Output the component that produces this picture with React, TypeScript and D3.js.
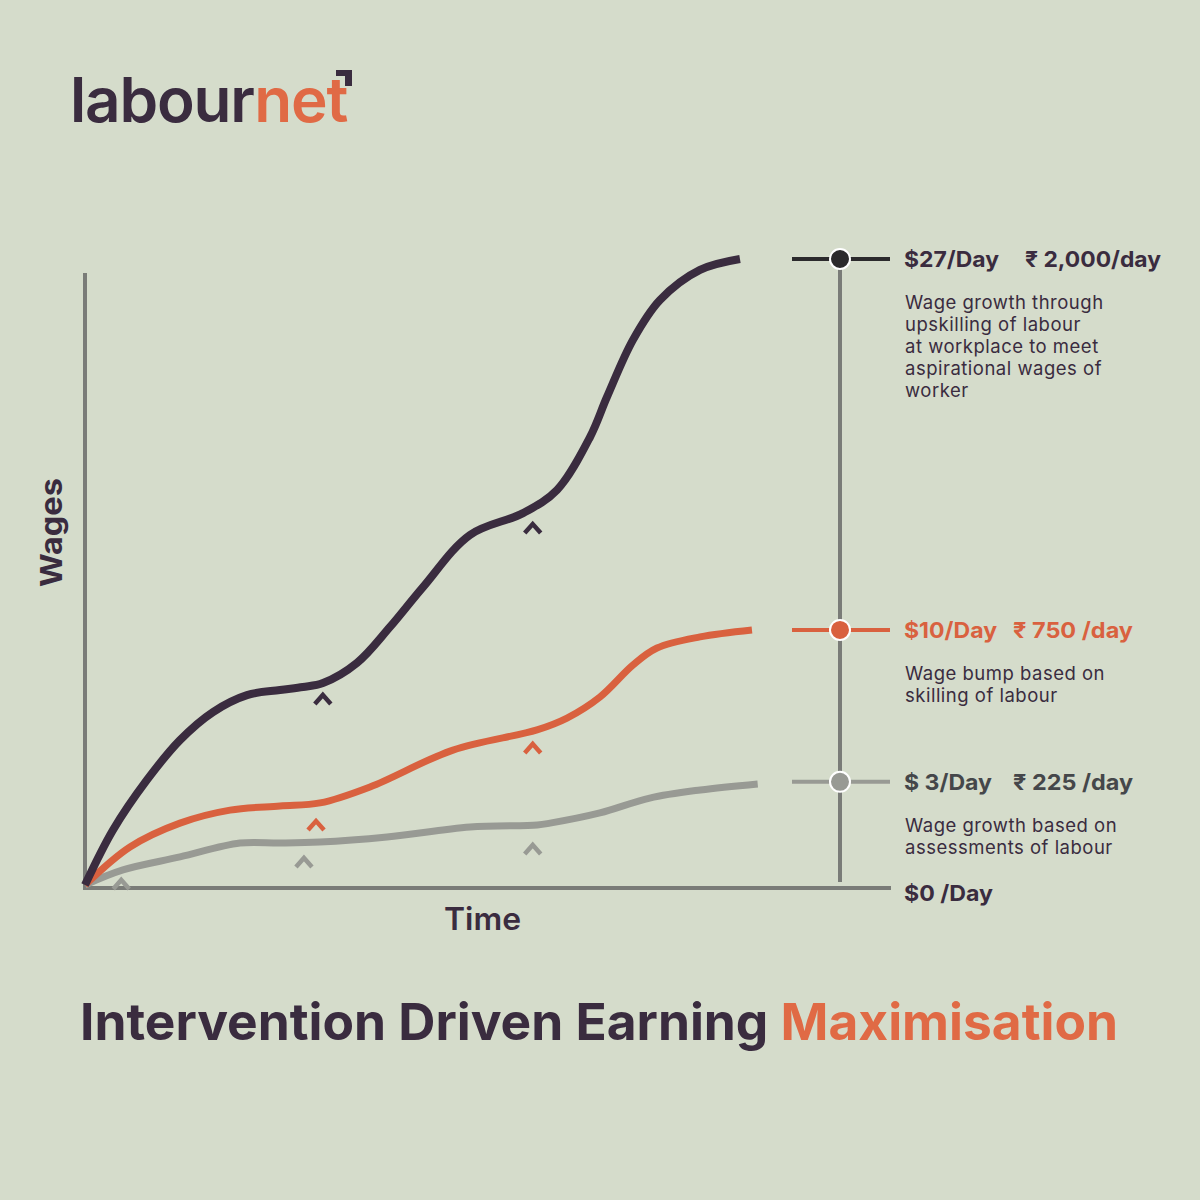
import React from "react";
import * as d3 from "d3";

// ---- data (time index 0..100, wage in $/day) ----
const upskillTime = [0, 3.71, 8.21, 12.58, 16.95, 21.46, 25.83, 28.87, 31.52, 36.03, 40.4, 44.77, 50.99, 58.01, 62.52, 66.89, 69.14, 72.58, 76.16, 81.46, 86.75];
const upskillWage = [0, 2.37, 4.53, 6.25, 7.46, 8.19, 8.41, 8.54, 8.71, 9.58, 11.13, 12.85, 15.1, 16.04, 17.04, 19.32, 21.05, 23.51, 25.23, 26.53, 27.0];

const skillTime = [0, 5.96, 12.58, 19.21, 25.83, 31.13, 37.75, 48.74, 59.87, 63.84, 68.21, 72.58, 75.76, 81.46, 88.34];
const skillWage = [0, 1.64, 2.67, 3.23, 3.41, 3.54, 4.23, 5.82, 6.69, 7.2, 8.11, 9.49, 10.22, 10.7, 11.0];

const assessTime = [0, 5.03, 12.58, 20.53, 25.83, 31.1, 40.0, 51.0, 59.9, 61.6, 68.2, 74.8, 81.5, 89.1];
const assessWage = [0, 0.65, 1.21, 1.81, 1.81, 1.85, 2.07, 2.5, 2.59, 2.67, 3.11, 3.75, 4.1, 4.36];

// chevron intervention markers
const upskillMarkTime = [31.5, 59.3];
const upskillMarkWage = [8.11, 15.48];
const skillMarkTime = [30.6, 59.3];
const skillMarkWage = [2.67, 6.0];
const assessMarkTime = [4.8, 29.0, 59.3];
const assessMarkWage = [0.13, 1.08, 1.64];

// legend
const legendLevels = [27, 11, 4.45];
const legendUsd = ["$27/Day", "$10/Day", "$ 3/Day"];
const legendInr = ["₹ 2,000/day", "₹ 750 /day", "₹ 225 /day"];
const legendDesc = [
  ["Wage growth through", "upskilling of labour", "at workplace to meet", "aspirational wages of", "worker"],
  ["Wage bump based on", "skilling of labour"],
  ["Wage growth based on", "assessments of labour"],
];
const zeroLabel = "$0 /Day";
const xAxisTitle = "Time";
const yAxisTitle = "Wages";
const titleMain = "Intervention Driven Earning ";
const titleAccent = "Maximisation";
const logoMain = "labour";
const logoAccent = "net";

const BG = "#D5DCCB";
const DARK = "#3A2C3F";
const ORANGE = "#D9613F";
const ORANGE_T = "#E06A45";
const GRAY = "#989A94";
const AXIS = "#7A7C78";
const FONT = "Inter, 'Open Sans', sans-serif";

const x = d3.scaleLinear().domain([0, 100]).range([85, 840]);
const y = d3.scaleLinear().domain([0, 27]).range([885, 259]);

const line = d3
  .line<[number, number]>()
  .x((d) => x(d[0]))
  .y((d) => y(d[1]))
  .curve(d3.curveCatmullRom.alpha(0.5));

const zip = (a: number[], b: number[]) => a.map((v, i) => [v, b[i]] as [number, number]);

const series = [
  { pts: zip(assessTime, assessWage), color: GRAY, width: 7, mt: assessMarkTime, mw: assessMarkWage },
  { pts: zip(skillTime, skillWage), color: ORANGE, width: 7, mt: skillMarkTime, mw: skillMarkWage },
  { pts: zip(upskillTime, upskillWage), color: DARK, width: 8, mt: upskillMarkTime, mw: upskillMarkWage },
];

const legendColors = ["#2B2A2C", ORANGE, GRAY];
const legendTextColors = [DARK, ORANGE, "#45474A"];
const legendUsdLen = [95, 93, 88];
const legendInrX = [1025, 1013, 1013];
const legendInrLen = [136, 120, 120];

function Chevron({ cx, cy, color }: { cx: number; cy: number; color: string }) {
  return (
    <path
      d={`M${cx - 8},${cy + 7} L${cx},${cy - 2} L${cx + 8},${cy + 7}`}
      fill="none"
      stroke={color}
      strokeWidth={4.5}
      strokeLinejoin="miter"
    />
  );
}

export default function App() {
  return (
    <svg
      width={1200}
      height={1200}
      style={{ position: "absolute", left: 0, top: 0, display: "block" }}
      fontFamily={FONT}
    >
      <rect width={1200} height={1200} fill={BG} />

      {/* logo */}
      <text x={70} y={122} fontSize={62} fontWeight={600} letterSpacing={-1.2}>
        <tspan fill={DARK}>{logoMain}</tspan>
        <tspan fill={ORANGE_T}>{logoAccent}</tspan>
      </text>
      <path d="M336,70 H352 V86 H345 V76 H336 Z" fill={DARK} />

      {/* axes */}
      <line x1={85} y1={273} x2={85} y2={890} stroke={AXIS} strokeWidth={4} />
      <line x1={83} y1={888} x2={891} y2={888} stroke={AXIS} strokeWidth={4} />
      <line x1={840} y1={y(legendLevels[0])} x2={840} y2={882} stroke={AXIS} strokeWidth={4} />

      {/* series */}
      {series.map((s, i) => (
        <g key={i}>
          <path d={line(s.pts) || ""} fill="none" stroke={s.color} strokeWidth={s.width} />
          {s.mt.map((t, j) => (
            <Chevron key={j} cx={x(t)} cy={y(s.mw[j])} color={s.color} />
          ))}
        </g>
      ))}

      {/* legend */}
      {legendLevels.map((lv, i) => {
        const ly = y(lv);
        return (
          <g key={i}>
            <line x1={792} y1={ly} x2={890} y2={ly} stroke={legendColors[i]} strokeWidth={4} />
            <circle cx={840} cy={ly} r={10} fill={legendColors[i]} stroke="#ffffff" strokeWidth={2} />
            <text x={904} y={ly + 8} fontSize={22} fontWeight={700} fill={legendTextColors[i]}
              textLength={legendUsdLen[i]} lengthAdjust="spacingAndGlyphs">
              {legendUsd[i]}
            </text>
            <text x={legendInrX[i]} y={ly + 8} fontSize={22} fontWeight={700} fill={legendTextColors[i]}
              textLength={legendInrLen[i]} lengthAdjust="spacingAndGlyphs">
              {legendInr[i]}
            </text>
            {legendDesc[i].map((t, k) => (
              <text key={k} x={905} y={ly + 50 + k * 22} fontSize={18.5} letterSpacing={0.5} fill={DARK}>
                {t}
              </text>
            ))}
          </g>
        );
      })}
      <text x={904} y={901} fontSize={22} fontWeight={700} fill={DARK} textLength={89} lengthAdjust="spacingAndGlyphs">
        {zeroLabel}
      </text>

      {/* axis titles */}
      <text x={444} y={930} fontSize={31} fontWeight={600} fill={DARK} textLength={77} lengthAdjust="spacingAndGlyphs">
        {xAxisTitle}
      </text>
      <text
        transform="translate(62,587) rotate(-90)"
        fontSize={30}
        fontWeight={700}
        fill={DARK}
        textLength={109}
        lengthAdjust="spacingAndGlyphs"
      >
        {yAxisTitle}
      </text>

      {/* title */}
      <text x={80} y={1040} fontSize={51} fontWeight={700} fill={DARK} textLength={1038} lengthAdjust="spacingAndGlyphs">
        <tspan>{titleMain}</tspan>
        <tspan fill={ORANGE_T}>{titleAccent}</tspan>
      </text>
    </svg>
  );
}
